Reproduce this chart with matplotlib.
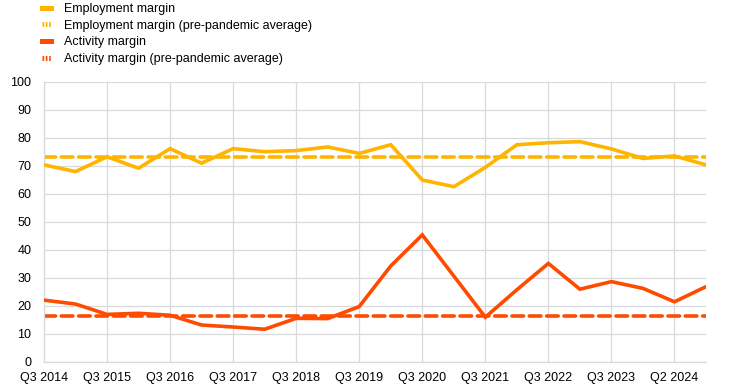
import matplotlib
matplotlib.use("Agg")
import matplotlib.pyplot as plt
from matplotlib.lines import Line2D

plt.rcParams['font.family'] = ['Liberation Sans', 'DejaVu Sans']

tick_labels = ["Q3 2014", "Q3 2015", "Q3 2016", "Q3 2017", "Q3 2018", "Q3 2019",
               "Q3 2020", "Q3 2021", "Q3 2022", "Q3 2023", "Q2 2024"]

employment = [70.4, 68.0, 73.3, 69.2, 76.2, 71.0, 76.2, 75.1, 75.5, 76.8, 74.5,
              77.6, 65.0, 62.6, 69.5, 77.6, 78.3, 78.7, 76.1, 72.7, 73.6, 70.4]
activity = [22.1, 20.7, 17.0, 17.4, 16.7, 13.2, 12.5, 11.7, 15.6, 15.5, 19.8,
            34.3, 45.4, 30.7, 16.0, 25.8, 35.2, 26.0, 28.7, 26.3, 21.5, 26.9]
employment_avg = 73.3
activity_avg = 16.5

c_emp = "#FFB400"
c_act = "#FF4B00"
grid_c = "#d9d9d9"

fig = plt.figure(figsize=(7.42, 3.88), dpi=100)
ax = fig.add_axes([44/742, 1-362/388, (706-44)/742, (362-82)/388])

x = list(range(len(employment)))
lw = 2.6
ax.plot(x, employment, color=c_emp, lw=lw, solid_joinstyle='miter', zorder=3)
ax.plot(x, activity, color=c_act, lw=lw, solid_joinstyle='miter', zorder=3)
ax.plot([x[0], x[-1]], [employment_avg]*2, color=c_emp, lw=2.6,
        dashes=(3.2, 1.6), dash_capstyle='round', zorder=2)
ax.plot([x[0], x[-1]], [activity_avg]*2, color=c_act, lw=2.6,
        dashes=(3.2, 1.6), dash_capstyle='round', zorder=2)

ax.set_xlim(0, len(employment)-1)
ax.set_ylim(0, 100)
ax.set_yticks(range(0, 101, 10))
ax.set_xticks(range(0, 2*len(tick_labels), 2))
ax.set_xticklabels(tick_labels)
ax.grid(True, color=grid_c, lw=0.9)
ax.set_axisbelow(True)
for s in ['top', 'right']:
    ax.spines[s].set_visible(False)
for s in ['left', 'bottom']:
    ax.spines[s].set_color(grid_c)
    ax.spines[s].set_linewidth(0.9)
ax.tick_params(length=0, labelsize=9, colors='black')
ax.tick_params(axis='x', pad=7)
ax.tick_params(axis='y', pad=9)

handles = [
    Line2D([], [], color=c_emp, lw=3.6),
    Line2D([], [], color=c_emp, lw=3.6, dashes=(0.33, 0.33)),
    Line2D([], [], color=c_act, lw=3.6),
    Line2D([], [], color=c_act, lw=3.6, dashes=(0.33, 0.33)),
]
labels = ["Employment margin", "Employment margin (pre-pandemic average)",
          "Activity margin", "Activity margin (pre-pandemic average)"]
fig.legend(handles, labels, loc='upper left', bbox_to_anchor=(42/742, 1 - 3/388),
           frameon=False, fontsize=9, handlelength=0.75, handletextpad=1.0,
           labelspacing=0.38, borderaxespad=0.0, borderpad=0.0)

fig.savefig("out.png", dpi=100)
